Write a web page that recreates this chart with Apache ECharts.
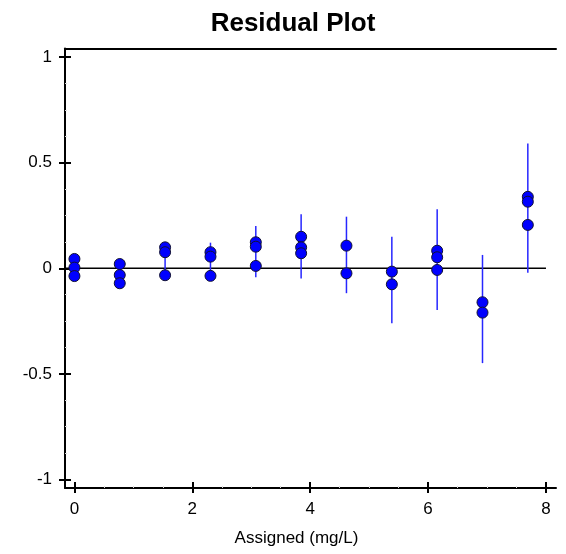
<!DOCTYPE html>
<html>
<head>
<meta charset="utf-8">
<script src="https://cdn.jsdelivr.net/npm/echarts@6/dist/echarts.min.js"></script>
<style>html,body{margin:0;padding:0;background:#fff;}#c{width:566px;height:554px;}</style>
</head>
<body>
<div id="c"></div>
<script>
// Assigned concentrations (mg/L)
var assigned = [0, 0.769, 1.538, 2.308, 3.077, 3.846, 4.615, 5.385, 6.154, 6.923, 7.692];
// Residuals of replicates (null = not shown)
var rep1 = [0.044, 0.020, 0.099, 0.076, 0.123, 0.149, 0.107, -0.016, 0.083, -0.161, 0.338];
var rep2 = [0.003, -0.032, 0.076, 0.055, 0.102, 0.099, -0.024, -0.076, 0.052, -0.210, 0.315];
var rep3 = [-0.037, -0.071, -0.033, -0.036, 0.011, 0.071, null, null, -0.008, null, 0.205];
// Error bar limits
var errHigh = [null, null, 0.080, 0.121, 0.200, 0.256, 0.244, 0.149, 0.279, 0.063, 0.590];
var errLow  = [null, null, -0.030, -0.055, -0.043, -0.049, -0.118, -0.260, -0.197, -0.449, -0.021];
// Ticks
var xTicks = [0, 2, 4, 6, 8];
var yTicks = [-1, -0.5, 0, 0.5, 1];
var xMinor = [0.5, 1, 1.5, 2.5, 3, 3.5, 4.5, 5, 5.5, 6.5, 7, 7.5];
var yMinor = [-0.875, -0.75, -0.625, -0.375, -0.25, -0.125, 0.125, 0.25, 0.375, 0.625, 0.75, 0.875];
var xRange = [-0.16, 8.17];
var yRange = [-1.04, 1.04];
var zeroLineEnd = 8;

var FONT = 'Liberation Sans, Arial, sans-serif';

var points = [];
[rep1, rep2, rep3].forEach(function (rep) {
  rep.forEach(function (v, i) { if (v !== null) points.push([assigned[i], v]); });
});
var bars = [];
assigned.forEach(function (x, i) {
  if (errHigh[i] !== null) bars.push([x, errLow[i], errHigh[i]]);
});

function xAx(extra) {
  var base = {
    type: 'value', min: xRange[0], max: xRange[1], position: 'bottom',
    splitLine: { show: false },
    axisLine: { show: false, onZero: false },
    axisTick: { show: false },
    axisLabel: { show: false }
  };
  return Object.assign(base, extra);
}
function yAx(extra) {
  var base = {
    type: 'value', min: yRange[0], max: yRange[1], position: 'left',
    splitLine: { show: false },
    axisLine: { show: false, onZero: false },
    axisTick: { show: false },
    axisLabel: { show: false }
  };
  return Object.assign(base, extra);
}

var chart = echarts.init(document.getElementById('c'), null, { renderer: 'canvas' });
chart.setOption({
  animation: false,
  backgroundColor: '#ffffff',
  graphic: [{
    type: 'text', x: 293, y: 24,
    style: { text: 'Residual Plot', font: 'bold 26px ' + FONT, fill: '#000', textAlign: 'center', textVerticalAlign: 'middle' }
  }],
  grid: { left: 65, right: 10, top: 48.5, bottom: 66, containLabel: false },
  xAxis: [
    xAx({
      axisLine: { show: true, onZero: false, lineStyle: { color: '#000', width: 2 } },
      axisTick: { show: true, inside: true, length: 6, customValues: xTicks, lineStyle: { color: '#000', width: 2 } },
      axisLabel: { show: true, customValues: xTicks, margin: 13, fontSize: 17, fontFamily: FONT, color: '#000' },
      name: 'Assigned (mg/L)', nameLocation: 'middle', nameGap: 42,
      nameTextStyle: { fontSize: 17, fontFamily: FONT, color: '#000', padding: [0, 28, 0, 0] }
    }),
    xAx({
      axisTick: { show: true, inside: false, length: 5, customValues: xTicks, lineStyle: { color: '#000', width: 2 } }
    }),
    xAx({
      axisTick: { show: true, inside: true, length: 2, customValues: xMinor, lineStyle: { color: '#d8d8d8', width: 1 } }
    }),
    xAx({
      position: 'top',
      axisLine: { show: true, onZero: false, lineStyle: { color: '#000', width: 2 } }
    })
  ],
  yAxis: [
    yAx({
      axisLine: { show: true, onZero: false, lineStyle: { color: '#000', width: 2 } },
      axisTick: { show: true, inside: true, length: 6, customValues: yTicks, lineStyle: { color: '#000', width: 2 } },
      axisLabel: { show: true, customValues: yTicks, margin: 13, fontSize: 17, fontFamily: FONT, color: '#000' }
    }),
    yAx({
      axisTick: { show: true, inside: false, length: 6, customValues: yTicks, lineStyle: { color: '#000', width: 2 } }
    }),
    yAx({
      axisTick: { show: true, inside: true, length: 2, customValues: yMinor, lineStyle: { color: '#d8d8d8', width: 1 } }
    })
  ],
  series: [
    {
      type: 'line', xAxisIndex: 0, yAxisIndex: 0,
      data: [[xRange[0], 0], [zeroLineEnd, 0]],
      symbol: 'none', silent: true,
      lineStyle: { color: '#000', width: 1.5 }, z: 1
    },
    {
      type: 'custom', xAxisIndex: 0, yAxisIndex: 0, z: 2,
      data: bars,
      renderItem: function (params, api) {
        var p1 = api.coord([api.value(0), api.value(1)]);
        var p2 = api.coord([api.value(0), api.value(2)]);
        return {
          type: 'line',
          shape: { x1: p1[0], y1: p1[1], x2: p2[0], y2: p2[1] },
          style: { stroke: '#2626ff', lineWidth: 1.5 }
        };
      }
    },
    {
      type: 'scatter', xAxisIndex: 0, yAxisIndex: 0, z: 3,
      data: points, symbol: 'circle', symbolSize: 11,
      itemStyle: { color: '#0000ff', borderColor: '#111133', borderWidth: 1, opacity: 1 }
    }
  ]
});
</script>
</body>
</html>
